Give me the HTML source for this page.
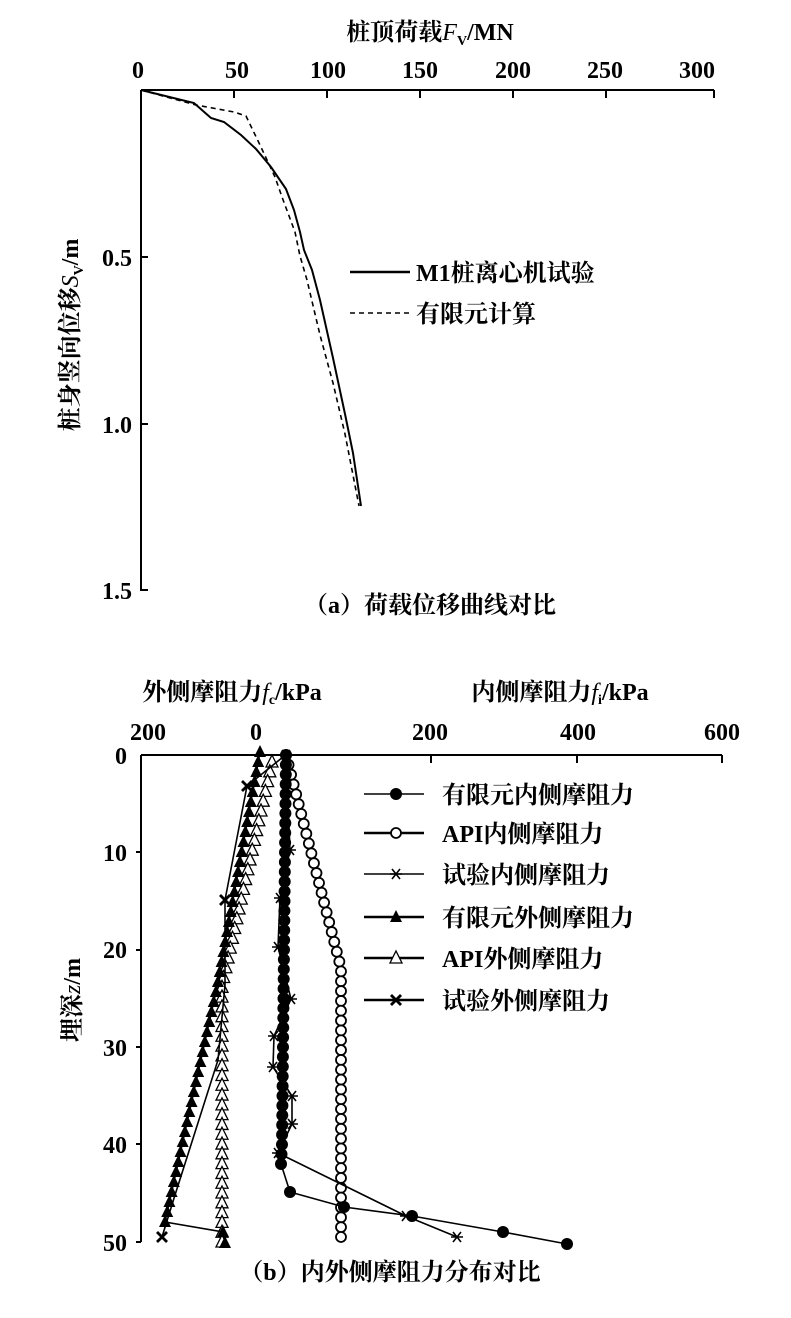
<!DOCTYPE html>
<html><head><meta charset="utf-8"><style>
body{margin:0;background:#fff}
svg{display:block}
text{font-family:"Liberation Serif","Noto Serif CJK SC",serif;fill:#000}
.n{font-size:24px;font-weight:bold}
.c{font-family:"Liberation Serif","Noto Serif CJK SC",serif;font-size:24px;font-weight:bold}
</style></head><body>
<svg id="s" width="791" height="1318" viewBox="0 0 791 1318" xmlns="http://www.w3.org/2000/svg">
<text x="430" y="40" text-anchor="middle" class="c">桩顶荷载<tspan font-style="italic" font-weight="normal">F</tspan><tspan font-size="14" dy="5">V</tspan><tspan dy="-5">/MN</tspan></text>
<g class="n" text-anchor="middle">
<text x="138" y="78">0</text><text x="237" y="78">50</text><text x="328" y="78">100</text><text x="420" y="78">150</text><text x="513" y="78">200</text><text x="605" y="78">250</text><text x="697" y="78">300</text>
</g>
<g class="n" text-anchor="end">
<text x="132" y="266">0.5</text><text x="132" y="433">1.0</text><text x="132" y="599">1.5</text>
</g>
<g stroke="#000" stroke-width="2" fill="none">
<path d="M141,90H714M141,90V591"/>
<path d="M234,90v8M327,90v8M420,90v8M513,90v8M606,90v8M714,90v8M141,257h7M141,424h7M141,590h7"/>
</g>
<path d="M141,90 L194,103 L211,118 L224,122 L241,135 L256,149 L271,167 L286,189 L294,210 L300,232 L304,250 L312,270 L320,300 L333,358 L345,414 L353,453 L361,506" stroke="#000" stroke-width="2" fill="none"/>
<path d="M141,90 L196,105 L234,112 L246,116 L260,145 L275,177 L282,197 L295,232 L300,256 L307,280 L320,335 L333,383 L345,434 L359,506" stroke="#000" stroke-width="1.6" fill="none" stroke-dasharray="5,4"/>
<path d="M350,272h60" stroke="#000" stroke-width="2.5"/>
<path d="M350,313h60" stroke="#000" stroke-width="1.6" stroke-dasharray="5,4"/>
<text x="416" y="281" class="c">M1桩离心机试验</text>
<text x="416" y="322" class="c">有限元计算</text>
<text transform="translate(78,335) rotate(-90)" text-anchor="middle" class="c">桩身竖向位移<tspan font-style="italic" font-weight="normal">S</tspan><tspan font-size="14" dy="5">V</tspan><tspan dy="-5">/m</tspan></text>
<text x="430" y="613" text-anchor="middle" class="c">（a）荷载位移曲线对比</text>

<text x="232" y="700" text-anchor="middle" class="c">外侧摩阻力<tspan font-style="italic" font-weight="normal">f</tspan><tspan font-size="14" dy="4">c</tspan><tspan dy="-4">/kPa</tspan></text>
<text x="560" y="700" text-anchor="middle" class="c">内侧摩阻力<tspan font-style="italic" font-weight="normal">f</tspan><tspan font-size="14" dy="4">i</tspan><tspan dy="-4">/kPa</tspan></text>
<g class="n" text-anchor="middle">
<text x="148" y="740">200</text><text x="256" y="740">0</text><text x="430" y="740">200</text><text x="578" y="740">400</text><text x="722" y="740">600</text>
</g>
<g class="n" text-anchor="end">
<text x="127" y="764">0</text><text x="127" y="861">10</text><text x="127" y="958">20</text><text x="127" y="1056">30</text><text x="127" y="1153">40</text><text x="127" y="1251">50</text>
</g>
<g stroke="#000" stroke-width="2" fill="none">
<path d="M141,755H722M141,755V1242"/>
<path d="M431,755v8M577,755v8M722,755v8M141,852h-5M141,950h-5M141,1047h-5M141,1144h-5M141,1242h-5"/>
</g>
<g id="plot" stroke="#000" fill="none" stroke-width="1.6"></g>
<g id="leg"></g>
<g class="c">
<text x="442" y="803">有限元内侧摩阻力</text>
<text x="442" y="842">API内侧摩阻力</text>
<text x="442" y="883">试验内侧摩阻力</text>
<text x="442" y="926">有限元外侧摩阻力</text>
<text x="442" y="967">API外侧摩阻力</text>
<text x="442" y="1009">试验外侧摩阻力</text>
</g>
<text transform="translate(80,1000) rotate(-90)" text-anchor="middle" class="c">埋深<tspan font-style="italic" font-weight="normal">z</tspan><tspan>/m</tspan></text>
<text x="390" y="1280" text-anchor="middle" class="c">（b）内外侧摩阻力分布对比</text>
</svg>
<script>
const NS="http://www.w3.org/2000/svg";
const plot=document.getElementById('plot'),leg=document.getElementById('leg');
function el(p,t,a){const e=document.createElementNS(NS,t);for(const k in a)e.setAttribute(k,a[k]);p.appendChild(e);return e;}
function interp(pts,n){
  const out=[];const y0=pts[0][1],y1=pts[pts.length-1][1];
  for(let i=0;i<n;i++){const y=y0+(y1-y0)*i/(n-1);
    for(let j=0;j<pts.length-1;j++){const a=pts[j],b=pts[j+1];
      if(y>=a[1]&&y<=b[1]){const t=b[1]==a[1]?0:(y-a[1])/(b[1]-a[1]);out.push([a[0]+(b[0]-a[0])*t,y]);break;}}}
  return out;}
function line(pts,w){el(plot,'path',{d:'M'+pts.map(p=>p.join(',')).join('L'),'stroke-width':w||1.6});}
function mk(p,x,y,type){
  if(type=='fc')el(p,'circle',{cx:x,cy:y,r:6,fill:'#000',stroke:'none'});
  if(type=='oc')el(p,'circle',{cx:x,cy:y,r:5,fill:'#fff',stroke:'#000','stroke-width':1.8});
  if(type=='ft')el(p,'path',{d:`M${x},${y-7}L${x+6},${y+5}L${x-6},${y+5}Z`,fill:'#000',stroke:'none'});
  if(type=='ot')el(p,'path',{d:`M${x},${y-7}L${x+6},${y+5}L${x-6},${y+5}Z`,fill:'#fff',stroke:'#000','stroke-width':1.3});
  if(type=='st')el(p,'path',{d:`M${x-6},${y}h12M${x-4},${y-5}l8,10M${x+4},${y-5}l-8,10`,stroke:'#000','stroke-width':1.6});
  if(type=='x')el(p,'path',{d:`M${x-5},${y-5}l10,10M${x+5},${y-5}l-10,10`,stroke:'#000','stroke-width':2.8});
}
let api_o=[[272,762],[222,985],[222,1242]];line(api_o);
interp(api_o,50).forEach(p=>mk(plot,p[0],p[1],'ot'));
let fe_o=interp([[260,752],[217,987],[165,1222]],48);line([...fe_o,[223,1232],[225,1243]]);
fe_o.forEach(p=>mk(plot,p[0],p[1],'ft'));mk(plot,223,1232,'ft');mk(plot,225,1243,'ft');
let t_o=[[283,757],[247,786],[225,900],[225,985],[218,1060],[175,1195],[162,1237]];line(t_o);
[[247,786],[225,900],[162,1237]].forEach(p=>mk(plot,p[0],p[1],'x'));
let api_i=[[286,755],[341,968],[341,1237]];line(api_i);
interp(api_i,50).forEach(p=>mk(plot,p[0],p[1],'oc'));
let fe_i=interp([[286,755],[285,852],[284,950],[283,1047],[282,1144],[281,1164]],43);
let fe_tail=[[290,1192],[344,1207],[412,1216],[503,1232],[567,1244]];
line([...fe_i,...fe_tail]);[...fe_i,...fe_tail].forEach(p=>mk(plot,p[0],p[1],'fc'));
let t_i=[[286,755],[290,850],[280,898],[278,947],[291,999],[274,1036],[273,1067],[292,1096],[292,1124],[278,1153],[406,1216],[457,1237]];
line(t_i);t_i.forEach(p=>mk(plot,p[0],p[1],'st'));
const ly=[794,833,874,917,958,1000],lt=['fc','oc','st','ft','ot','x'],lw=[1.6,2.5,1.6,2.5,2.5,2.5];
ly.forEach((y,i)=>{el(leg,'path',{d:`M364,${y}h60`,stroke:'#000','stroke-width':lw[i]});mk(leg,396,y,lt[i]);});
</script>
</body></html>
